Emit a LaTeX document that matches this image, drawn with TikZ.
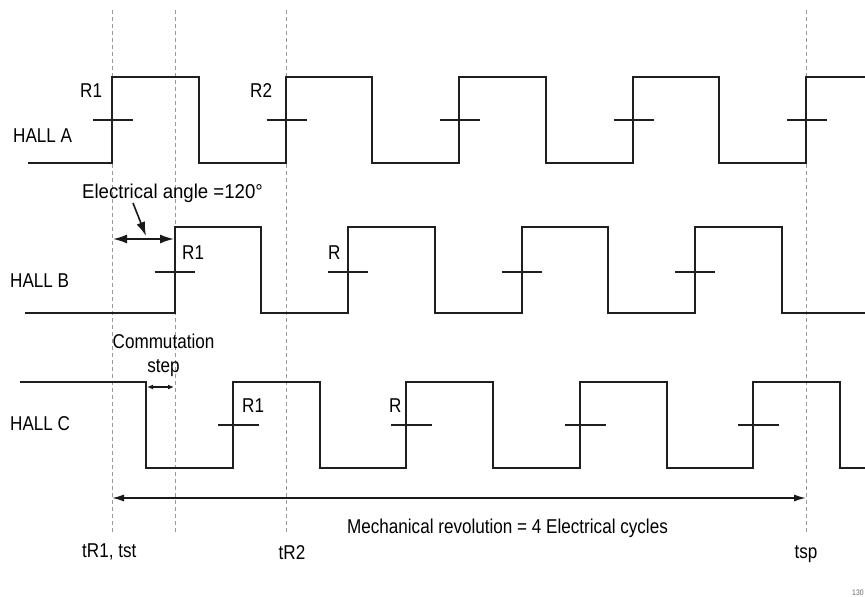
\documentclass[tikz,border=0pt]{standalone}
\usepackage{fontspec}
\setmainfont{Liberation Sans}[FakeStretch=0.855]
\newfontfamily\wideangfont{Liberation Sans}[FakeStretch=0.93]
\usetikzlibrary{arrows.meta}
\begin{document}
\begin{tikzpicture}[x=1pt,y=-1pt,
  sig/.style={line width=2pt,draw=black!88,line join=miter},
  tickmark/.style={line width=2pt,draw=black!88},
  guide/.style={line width=0.8pt,draw=black!40,dash pattern=on 4pt off 3pt},
  lbl/.style={inner sep=0pt,font=\fontsize{20}{24}\selectfont,text=black},
  dimarrow/.style={line width=1.6pt,draw=black!90},
  ]
\useasboundingbox (0,0) rectangle (865,597);
\fill[white] (0,0) rectangle (865,597);

% guide lines
\foreach \gx/\nm in {112/gA,175/gB,286/gC,806/gD}{
  \coordinate (\nm top) at (\gx,10);
  \coordinate (\nm bot) at (\gx,533);
  \draw[guide] (\nm top) -- (\nm bot);
}

% HALL A
\draw[sig] (28,163) -- (112,163) -- (112,77) -- (198.75,77) -- (198.75,163)
  -- (285.5,163) -- (285.5,77) -- (372.25,77) -- (372.25,163)
  -- (459,163) -- (459,77) -- (545.75,77) -- (545.75,163)
  -- (632.5,163) -- (632.5,77) -- (719.25,77) -- (719.25,163)
  -- (806,163) -- (806,77) -- (865,77);
\foreach \rx in {112,285.5,459,632.5,806}{
  \draw[tickmark] (\rx-19,120) -- (\rx+21,120);
}

% HALL B
\draw[sig] (25,313) -- (174.5,313) -- (174.5,227) -- (261.25,227) -- (261.25,313)
  -- (348,313) -- (348,227) -- (434.75,227) -- (434.75,313)
  -- (521.5,313) -- (521.5,227) -- (608.25,227) -- (608.25,313)
  -- (695,313) -- (695,227) -- (781.75,227) -- (781.75,313) -- (865,313);
\foreach \rx in {174.5,348,521.5,695}{
  \draw[tickmark] (\rx-20,272) -- (\rx+20,272);
}

% HALL C
\draw[sig] (20,382) -- (146,382) -- (146,468) -- (232.75,468) -- (232.75,382)
  -- (319.5,382) -- (319.5,468) -- (406.25,468) -- (406.25,382)
  -- (493,382) -- (493,468) -- (579.75,468) -- (579.75,382)
  -- (666.5,382) -- (666.5,468) -- (753.25,468) -- (753.25,382)
  -- (840,382) -- (840,468) -- (865,468);
\foreach \rx in {232.75,406.25,579.75,753.25}{
  \draw[tickmark] (\rx-15,425) -- (\rx+26,425);
}

% labels
\node[lbl,anchor=base west] (hallA) at (13,142) {HALL A};
\node[lbl,anchor=base west] (hallB) at (10,287) {HALL B};
\node[lbl,anchor=base west] (hallC) at (10,430) {HALL C};
\node[lbl,anchor=base west] (r1a) at (80,97) {R1};
\node[lbl,anchor=base west] (r2a) at (250,97) {R2};
\node[lbl,anchor=base west] (r1b) at (182,259) {R1};
\node[lbl,anchor=base west] (rb) at (328,259) {R};
\node[lbl,anchor=base west] (r1c) at (242,412) {R1};
\node[lbl,anchor=base west] (rc) at (389,412) {R};
\node[lbl,anchor=base west,font=\fontsize{20}{24}\wideangfont] (eangle) at (82,198) {Electrical angle =120°};
\node[lbl,anchor=base] (comm) at (163.5,348) {Commutation};
\node[lbl,anchor=base] (step) at (163.5,372.5) {step};
\node[lbl,anchor=base] (mech) at (507.5,533) {Mechanical revolution = 4 Electrical cycles};
\node[lbl,anchor=base west] (tr1) at (82,557) {tR1, tst};
\node[lbl,anchor=base] (tr2) at (292,559) {tR2};
\node[lbl,anchor=base] (tsp) at (806,558) {tsp};
\node[inner sep=0pt,anchor=base west,font=\fontsize{8}{9}\selectfont,text=black!60] (fignum) at (852,595) {130};

% electrical angle arrows
\coordinate (eaL) at (113,239);
\coordinate (eaR) at (174,239);
\coordinate (ptS) at (133,203);
\coordinate (ptE) at (146,236);
\draw[dimarrow,{Latex[length=14pt,width=9pt]}-{Latex[length=14pt,width=9pt]}] (eaL) -- (eaR);
\draw[dimarrow,-{Latex[length=14pt,width=9pt]}] (ptS) -- (ptE);

% commutation step arrow
\coordinate (csL) at (147,387);
\coordinate (csR) at (174,387);
\draw[line width=1.2pt,draw=black!90,{Latex[length=6pt,width=5pt]}-{Latex[length=6pt,width=5pt]}] (csL) -- (csR);

% mechanical revolution arrow
\coordinate (mrL) at (112,498);
\coordinate (mrR) at (806,498);
\draw[line width=1.5pt,draw=black!90,{Latex[length=12pt,width=7pt]}-{Latex[length=12pt,width=7pt]}] (mrL) -- (mrR);
\end{tikzpicture}
\end{document}
